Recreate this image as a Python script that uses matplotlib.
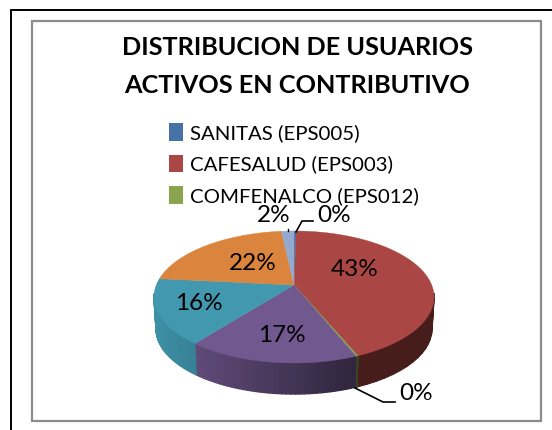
"""Distribucion de usuarios activos en contributivo: tilted 3D pie in pixel axes."""

import numpy as np
import matplotlib
matplotlib.use("Agg")
import matplotlib.pyplot as plt
from matplotlib.patches import Patch, Polygon, Rectangle
from matplotlib.collections import PolyCollection

plt.rcParams["font.family"] = ["Lato", "DejaVu Sans"]

title_lines = ["DISTRIBUCION DE USUARIOS", "ACTIVOS EN CONTRIBUTIVO"]
slice_names = ["SANITAS (EPS005)", "CAFESALUD (EPS003)", "COMFENALCO (EPS012)",
               "Otra 1", "Otra 2", "Otra 3", "Otra 4"]
slice_values = [0.3, 43.4, 0.2, 16.7, 16.0, 21.7, 1.7]
slice_colors = ["#4572A7", "#AA4643", "#89A54E", "#71588F", "#4198AF", "#DB843D", "#93A9CF"]
legend_count = 3

# pie geometry in image pixels
CX, CY = 294, 297
RX, RY = 140, 66
APEX_Y = 285
DEPTH = 32

# label anchors in image pixels, in slice order
label_xy = [(334, 216), (355, 269), (416, 393), (282, 336), (199, 303), (253, 263), (274, 216)]


def rim_angle(theta):
    """Map a pie angle to the ellipse angle under the perspective tilt."""
    a = (CY - APEX_Y) / RY
    k = np.sqrt((1 - a) / (1 + a))
    return 2 * np.arctan2(k * np.sin(theta / 2), np.cos(theta / 2))


def rim_xy(theta, scale=1.0, dy=0.0):
    phi = rim_angle(theta)
    return CX + scale * RX * np.sin(phi), CY - scale * RY * np.cos(phi) + dy


def shade(color, x):
    f = np.clip(0.95 - 0.53 * (x - 154) / 203, 0.42, 0.95)
    return tuple(np.array(matplotlib.colors.to_rgb(color)) * f)


def main():
    fig = plt.figure(figsize=(5.52, 4.30), dpi=100)
    ax = fig.add_axes([0, 0, 1, 1])
    ax.set_xlim(0, 552)
    ax.set_ylim(430, 0)
    ax.axis("off")

    # outer page line (left and top only) and chart frame
    ax.plot([10.5, 10.5, 552], [430, 9.5, 9.5], color="black", lw=1.4, solid_joinstyle="miter")
    ax.add_patch(Rectangle((32, 21), 508.5, 400, fill=False, ec="#8c8c8c", lw=1.6))

    fractions = np.array(slice_values) / sum(slice_values)
    edges = np.concatenate([[0], np.cumsum(fractions)]) * 2 * np.pi

    # side wall first, only the front half shows
    quads, colors = [], []
    for i, color in enumerate(slice_colors):
        grid = np.linspace(edges[i], edges[i + 1], 40)
        for t0, t1 in zip(grid[:-1], grid[1:]):
            x0, y0 = rim_xy(t0)
            x1, y1 = rim_xy(t1)
            if np.cos(rim_angle((t0 + t1) / 2)) > 0.05:
                continue
            bx0, by0 = rim_xy(t0, 0.985, DEPTH)
            bx1, by1 = rim_xy(t1, 0.985, DEPTH)
            quads.append([(x0, y0), (x1, y1), (bx1, by1), (bx0, by0)])
            colors.append(shade(color, (x0 + x1) / 2))
    ax.add_collection(PolyCollection(quads, facecolors=colors, edgecolors=colors, linewidths=1.0))

    # top surface
    for i, color in enumerate(slice_colors):
        t = np.linspace(edges[i], edges[i + 1], 80)
        x, y = rim_xy(t)
        pts = np.column_stack([np.r_[CX, x], np.r_[APEX_Y, y]])
        ax.add_patch(Polygon(pts, closed=True, fc=color, ec=color, lw=0.3))

    # data labels
    for value, (x, y) in zip(slice_values, label_xy):
        ax.text(x, y, f"{round(value):d}%", ha="center", va="center", fontsize=17.5, color="black")

    # leader lines
    ax.plot([296, 302, 313], [232, 221, 221], color="black", lw=1.2)
    ax.plot([288, 288], [229, 231], color="black", lw=1.0)
    ax.plot([355, 383, 395], [388, 402, 402], color="black", lw=1.2)

    # title
    for line, y in zip(title_lines, (55, 93)):
        ax.text(297, y, line, ha="center", va="baseline", fontsize=18.2, fontweight="bold", color="black")

    # legend
    handles = [Patch(fc=c, ec="none") for c in slice_colors[:legend_count]]
    ax.legend(handles, slice_names[:legend_count], loc="upper left", bbox_to_anchor=(165, 119),
              bbox_transform=ax.transData, frameon=False, fontsize=14.7, handlelength=0.68,
              handleheight=0.95, handletextpad=0.33, labelspacing=0.62, borderpad=0.2, borderaxespad=0)

    fig.savefig("out.png", dpi=100)


if __name__ == "__main__":
    main()
